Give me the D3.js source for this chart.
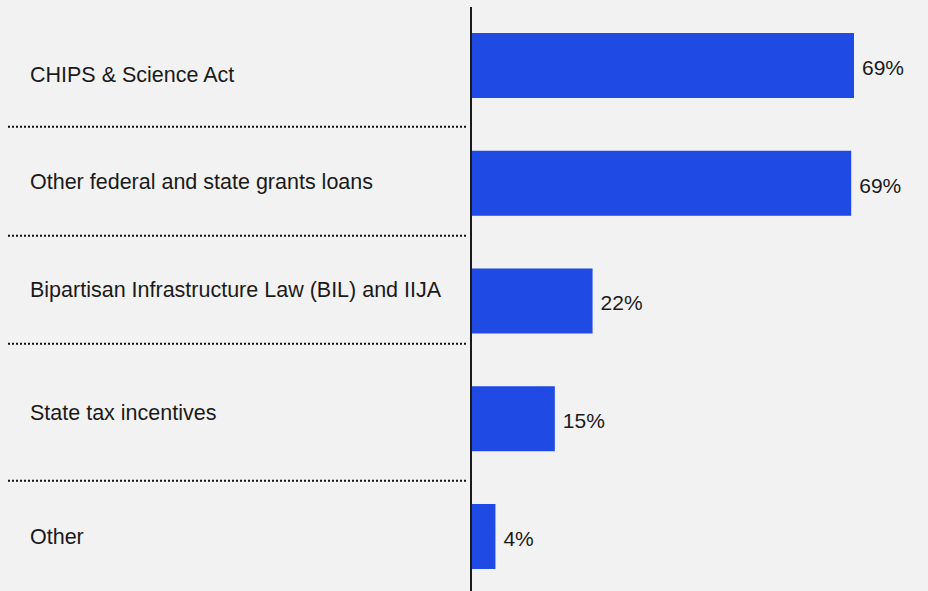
<!DOCTYPE html>
<html>
<head>
<meta charset="utf-8">
<script src="https://cdn.jsdelivr.net/npm/d3@7"></script>
<style>
  html, body { margin: 0; padding: 0; background: #f2f2f2; }
  svg { display: block; }
  text { font-family: Arial, "Liberation Sans", Helvetica, sans-serif; fill: #1a1a1a; }
</style>
</head>
<body>
<svg id="chart" width="928" height="591"></svg>
<script>
// Funding sources (share of respondents, %)
const categories = [
  "CHIPS & Science Act",
  "Other federal and state grants loans",
  "Bipartisan Infrastructure Law (BIL) and IIJA",
  "State tax incentives",
  "Other"
];
const values = [69.0, 68.5, 21.9, 15.1, 4.4];

// Row layout for the label column (dotted separators sit on the inner edges)
const rowEdges = [22, 126.7, 235.7, 343.7, 480.7, 592];

const width = 928, height = 591;
const axisX = 471;
const svg = d3.select("#chart");

svg.append("rect")
  .attr("width", width).attr("height", height)
  .attr("fill", "#f2f2f2");

const x = d3.scaleLinear()
  .domain([0, 69])
  .range([axisX, 854]);

const y = d3.scaleBand()
  .domain(categories)
  .range([7, 595])
  .paddingInner(0.448)
  .paddingOuter(0.221);

// bars
svg.append("g")
  .selectAll("rect")
  .data(categories)
  .join("rect")
  .attr("x", x(0))
  .attr("y", d => y(d))
  .attr("width", (d, i) => x(values[i]) - x(0))
  .attr("height", y.bandwidth())
  .attr("fill", "#1f4ae3");

// value labels
const fmt = v => Math.round(v) + "%";
svg.append("g")
  .selectAll("text")
  .data(categories)
  .join("text")
  .attr("x", (d, i) => x(values[i]) + 8)
  .attr("y", d => y(d) + y.bandwidth() / 2)
  .attr("dy", "0.45em")
  .attr("font-size", 21)
  .text((d, i) => fmt(values[i]));

// category labels, centred in their rows
svg.append("g")
  .selectAll("text")
  .data(categories)
  .join("text")
  .attr("x", 30)
  .attr("y", (d, i) => (rowEdges[i] + rowEdges[i + 1]) / 2)
  .attr("dy", "0.36em")
  .attr("font-size", 21.5)
  .text(d => d);

// dotted row separators
svg.append("g")
  .selectAll("line")
  .data(rowEdges.slice(1, -1))
  .join("line")
  .attr("x1", 8)
  .attr("x2", 468)
  .attr("y1", d => d)
  .attr("y2", d => d)
  .attr("stroke", "#111")
  .attr("stroke-width", 2)
  .attr("stroke-dasharray", "2,2");

// baseline axis
svg.append("line")
  .attr("x1", axisX).attr("x2", axisX)
  .attr("y1", 7).attr("y2", height)
  .attr("stroke", "#1a1a1a")
  .attr("stroke-width", 2);
</script>
</body>
</html>
